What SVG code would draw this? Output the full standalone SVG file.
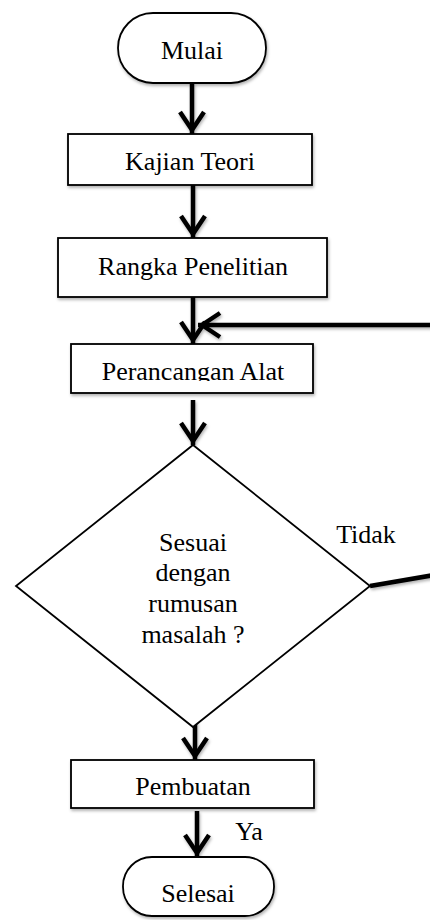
<svg xmlns="http://www.w3.org/2000/svg" width="430" height="920" viewBox="0 0 430 920">
<style>
.shape{fill:#fff;stroke:#000;stroke-width:1.8}
.lbl{font-family:"Liberation Serif","Times New Roman",serif;font-size:26px;fill:#000;text-anchor:middle}
.conn{fill:none;stroke:#000;stroke-width:4.5}
</style>
<defs>
<filter id="sh" x="-10%" y="-10%" width="130%" height="140%">
<feDropShadow dx="1" dy="2" stdDeviation="1.5" flood-color="#000" flood-opacity="0.3"/>
</filter>
<marker id="ah" markerUnits="userSpaceOnUse" viewBox="-30 -16 32 32" refX="0" refY="0" markerWidth="32" markerHeight="32" orient="auto">
<path d="M-22,-12 L-4,0 L-22,12" fill="none" stroke="#000" stroke-width="4.5"/>
</marker>
<clipPath id="clipP"><rect x="71" y="344" width="242" height="37"/></clipPath>
</defs>
<rect width="430" height="920" fill="#fff"/>
<g id="connectors" filter="url(#sh)">
<path class="conn" d="M192,83 V134" marker-end="url(#ah)"/>
<path class="conn" d="M193,185 V238" marker-end="url(#ah)"/>
<path class="conn" d="M193,297 V344" marker-end="url(#ah)"/>
<path class="conn" d="M370,586 L440,574 V325 H198" marker-end="url(#ah)"/>
<path class="conn" d="M193,400 V445" marker-end="url(#ah)"/>
<path class="conn" d="M195,719 V760" marker-end="url(#ah)"/>
<path class="conn" d="M197,811 V857" marker-end="url(#ah)"/>
</g>
<g id="mulai">
<rect class="shape" filter="url(#sh)" x="118" y="13" width="148" height="70" rx="35" ry="35"/>
<text class="lbl" x="192" y="59">Mulai</text>
</g>
<g id="kajian">
<rect class="shape" filter="url(#sh)" x="68" y="134" width="244" height="51"/>
<text class="lbl" x="190" y="170">Kajian Teori</text>
</g>
<g id="rangka">
<rect class="shape" filter="url(#sh)" x="58" y="238" width="269" height="59"/>
<text class="lbl" x="193" y="275">Rangka Penelitian</text>
</g>
<g id="perancangan">
<rect class="shape" filter="url(#sh)" x="71" y="344" width="242" height="49"/>
<text class="lbl" x="193" y="380" clip-path="url(#clipP)">Perancangan Alat</text>
</g>
<g id="keputusan">
<polygon class="shape" points="193,445 370,586 193,727 16,586"/>
<text class="lbl" x="193" y="551">Sesuai</text>
<text class="lbl" x="193" y="581">dengan</text>
<text class="lbl" x="193" y="612">rumusan</text>
<text class="lbl" x="193" y="643">masalah ?</text>
</g>
<g id="label-tidak"><text class="lbl" x="366" y="543">Tidak</text></g>
<g id="pembuatan">
<rect class="shape" filter="url(#sh)" x="71" y="760" width="243" height="48"/>
<text class="lbl" x="193" y="795">Pembuatan</text>
</g>
<g id="label-ya"><text class="lbl" x="249" y="840">Ya</text></g>
<g id="selesai">
<rect class="shape" filter="url(#sh)" x="123" y="857" width="151" height="59" rx="29" ry="29"/>
<text class="lbl" x="198" y="902">Selesai</text>
</g>
</svg>
